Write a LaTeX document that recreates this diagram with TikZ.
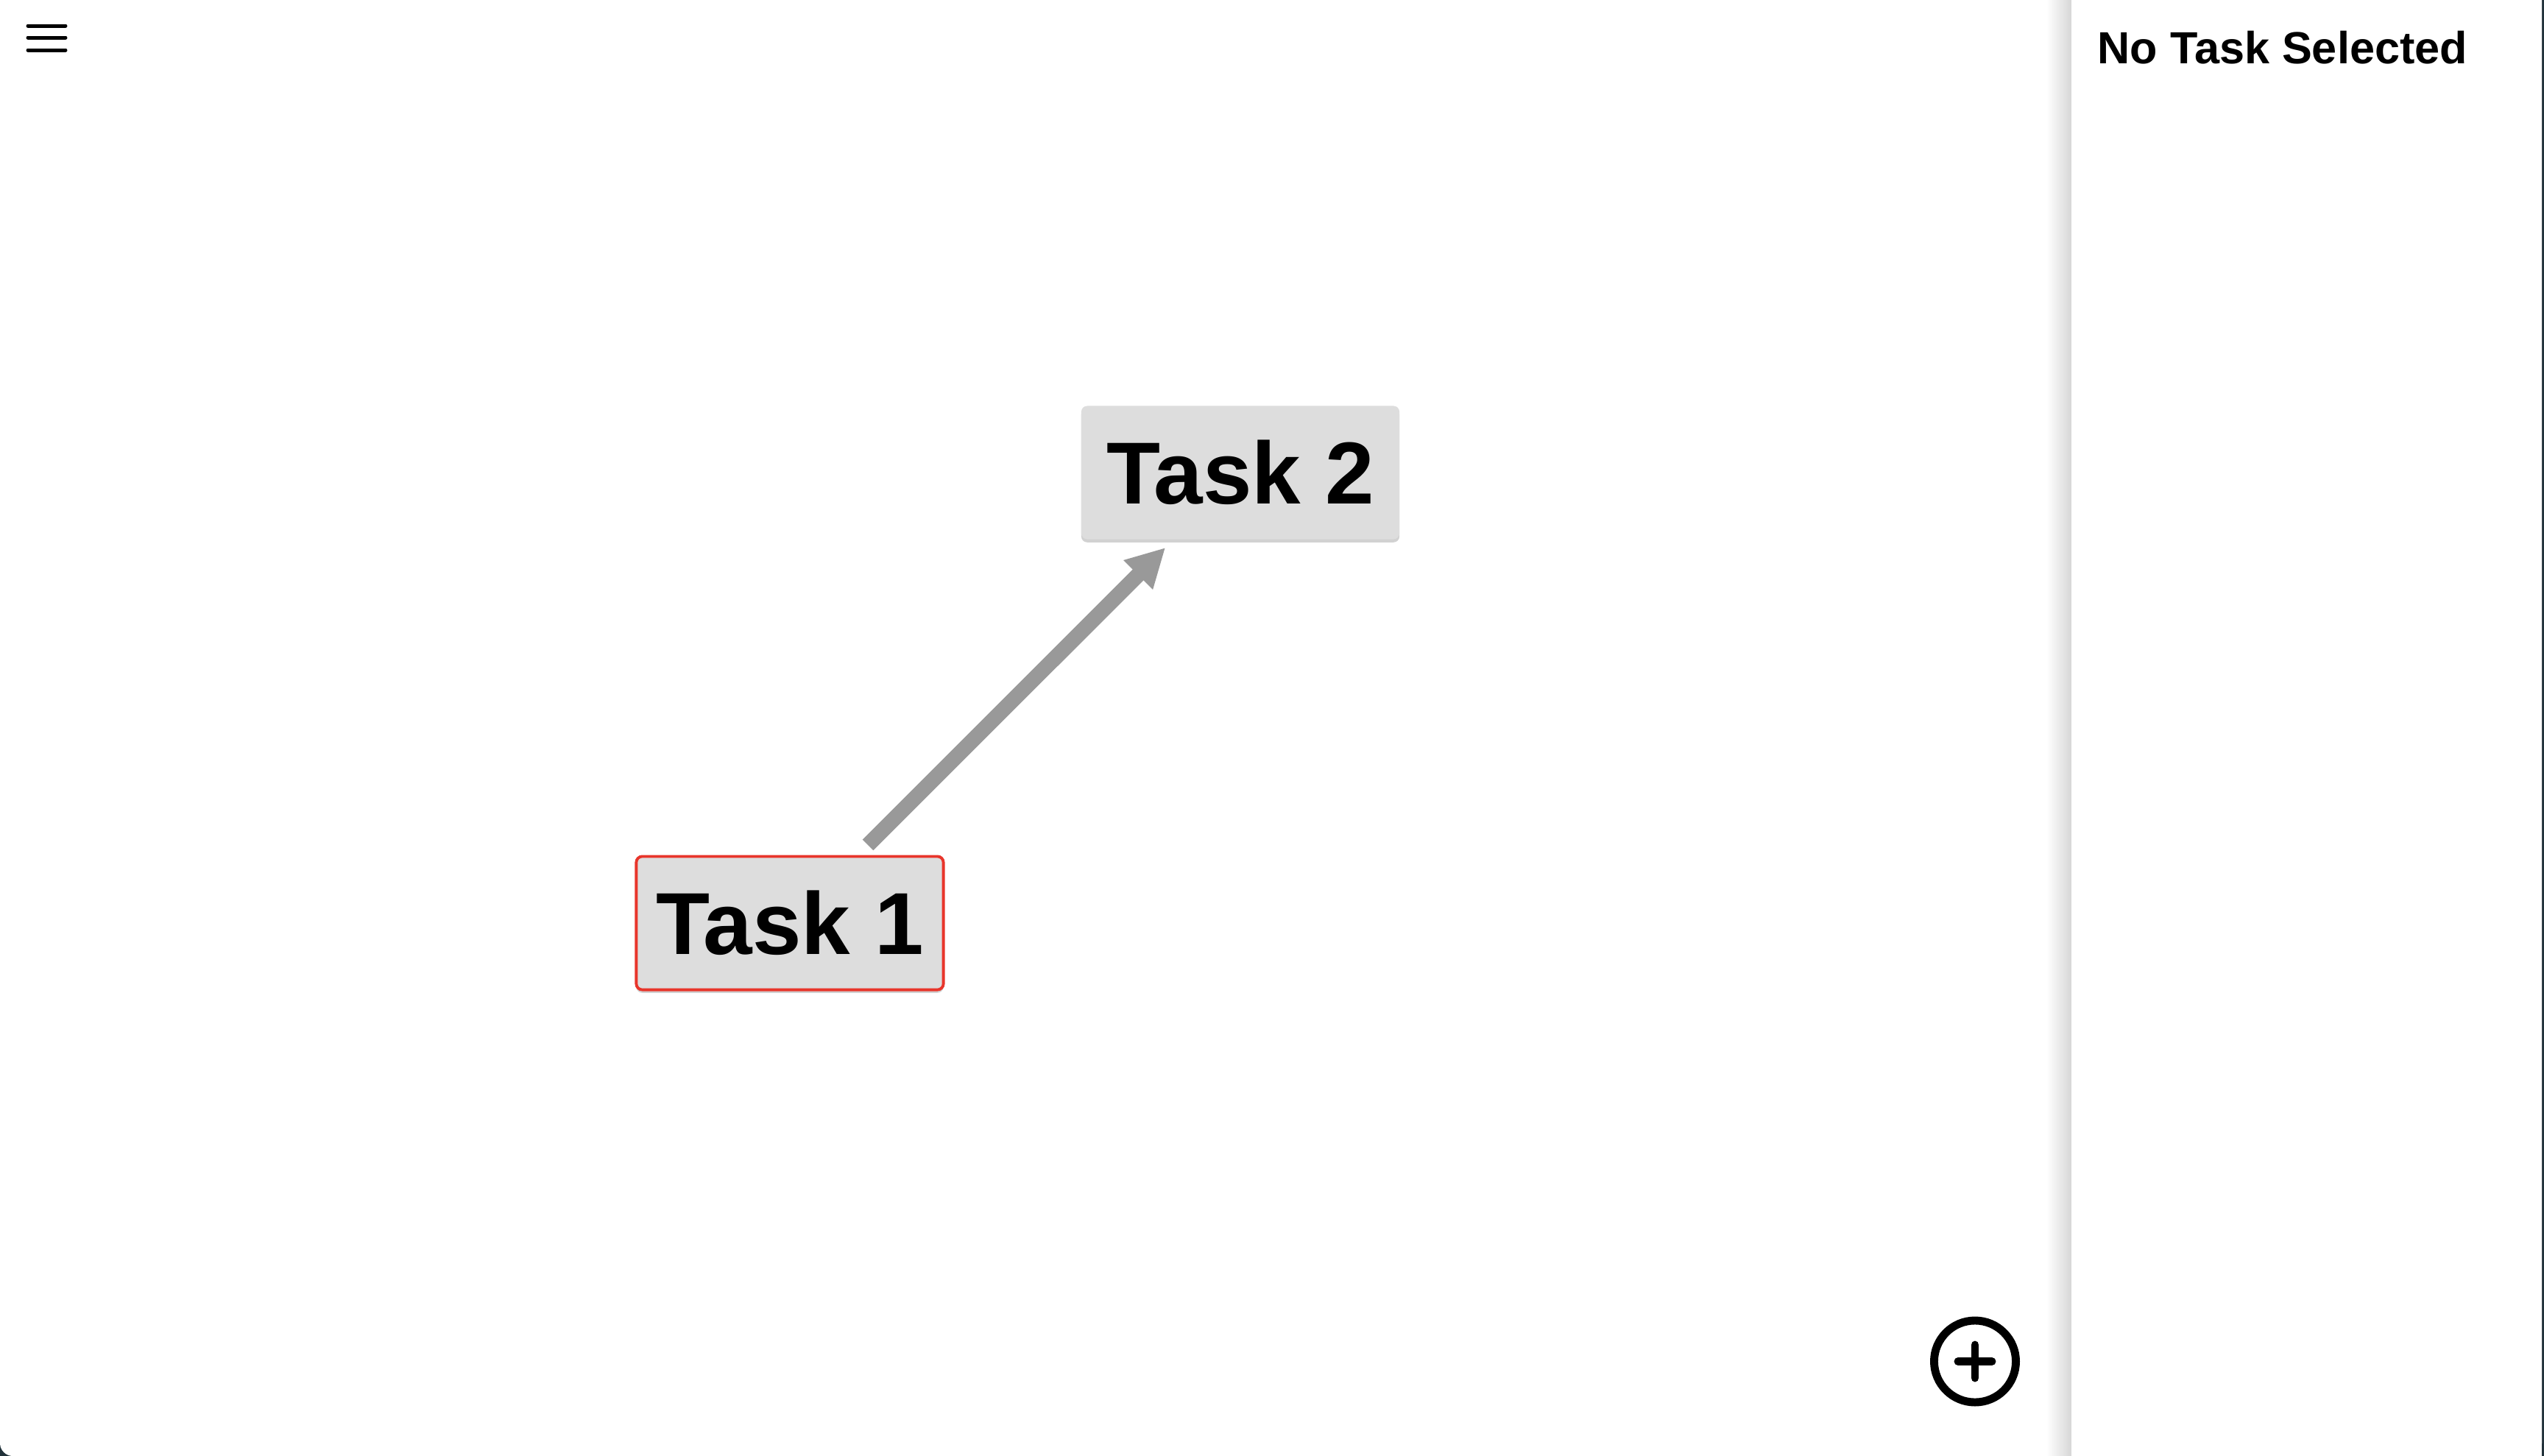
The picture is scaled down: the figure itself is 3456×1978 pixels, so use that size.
\documentclass[tikz,border=0pt]{standalone}
\usepackage{fontspec}
\setmainfont{Liberation Sans}
\usetikzlibrary{arrows.meta,shadows}
\definecolor{boxgray}{HTML}{DDDDDD}
\definecolor{linkgray}{HTML}{999999}
\definecolor{selred}{HTML}{E8352B}
\definecolor{framedark}{HTML}{22323A}
\begin{document}
\begin{tikzpicture}[x=0.01cm,y=-0.01cm,
    task/.style={rectangle,rounded corners=2.3pt,fill=boxgray,inner sep=0pt,
        font=\fontsize{34}{40}\selectfont\bfseries,
        drop shadow={shadow xshift=0pt,shadow yshift=-1.2pt,opacity=0.18,fill=black}},
    selected/.style={draw=selred,line width=1.1pt},
    link/.style={draw=linkgray,line width=5.9pt,-{Triangle[length=14.9pt,width=14.9pt]}}]
    \useasboundingbox (0,0) rectangle (3456,1978);
    % window frame
    \fill[framedark] (0,0) rectangle (3456,1978);
    \fill[white,rounded corners=5pt] (0,-40) rectangle (3453,1978);
    % side panel
    \shade[left color=white,right color=black!16] (2780,0) rectangle (2814,1978);
    \fill[white] (2814,0) rectangle (3453,1978);
    \node [anchor=base west,inner sep=0pt,font=\fontsize{17.4}{21}\selectfont\bfseries](title) at (2849,86) {No Task Selected};
    % menu icon
    \draw [line width=1.42pt,line cap=round] (38,35) -- (89,35) (38,51) -- (89,51) (38,68) -- (89,68);
    % tasks
    \node [task,selected,minimum width=4.17cm,minimum height=1.81cm](T1) at (1073,1254) {Task 1};
    \node [task,minimum width=4.32cm,minimum height=1.81cm](T2) at (1685,642) {Task 2};
    \draw [link,shorten <=5.5pt,shorten >=4.3pt](T1) -- (T2);
    % add button
    \node [circle,draw,line width=3.1pt,minimum size=1.11cm,inner sep=0pt](add) at (2683,1849.5) {};
    \draw [line width=3.1pt,line cap=round] ([xshift=-0.23cm]add.center) -- ([xshift=0.23cm]add.center)
        ([yshift=-0.225cm]add.center) -- ([yshift=0.225cm]add.center);
\end{tikzpicture}
\end{document}
